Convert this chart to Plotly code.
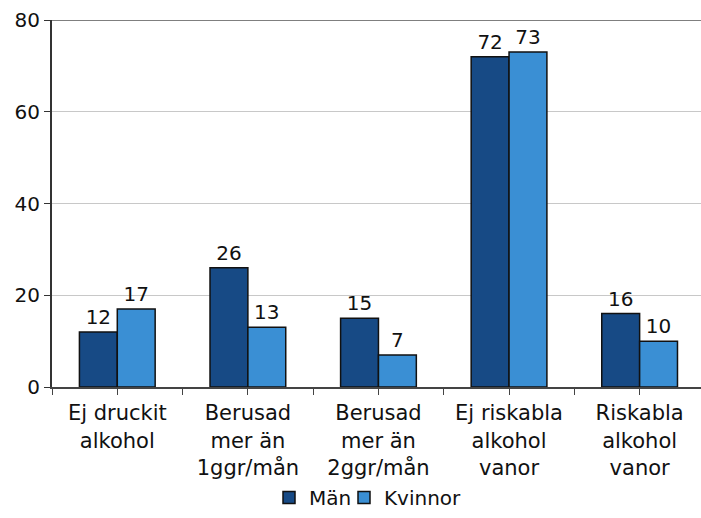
import plotly.graph_objects as go

categories = ["Ej druckit<br>alkohol", "Berusad<br>mer än<br>1ggr/mån", "Berusad<br>mer än<br>2ggr/mån",
              "Ej riskabla<br>alkohol<br>vanor", "Riskabla<br>alkohol<br>vanor"]
man = [12, 26, 15, 72, 16]
kvinnor = [17, 13, 7, 73, 10]
x = list(range(len(categories)))

FONT = "DejaVu Sans"
PLOT_L, PLOT_W = 52, 649
FIG_H = 518
PLOT_T, PLOT_B = 20, 387
PLOT_H = PLOT_B - PLOT_T

fig = go.Figure()
fig.add_trace(go.Bar(x=x, y=man, name="Män", legend="legend",
                     marker=dict(color="#174a85", line=dict(color="#111111", width=1.5)),
                     text=[str(v) for v in man], textposition="outside", cliponaxis=False,
                     textfont=dict(size=20, color="#111111", family=FONT)))
fig.add_trace(go.Bar(x=x, y=kvinnor, name="Kvinnor", legend="legend2",
                     marker=dict(color="#3a8fd4", line=dict(color="#111111", width=1.5)),
                     text=[str(v) for v in kvinnor], textposition="outside", cliponaxis=False,
                     textfont=dict(size=20, color="#111111", family=FONT)))

leg_common = dict(orientation="h", xanchor="left", yanchor="bottom",
                  y=-(FIG_H - PLOT_B - 1) / PLOT_H,
                  font=dict(size=20), itemwidth=30, bgcolor="rgba(0,0,0,0)")
fig.update_layout(
    width=701, height=FIG_H,
    margin=dict(l=PLOT_L, r=0, t=PLOT_T, b=FIG_H - PLOT_B),
    paper_bgcolor="white", plot_bgcolor="white",
    barmode="group", bargap=0.42, bargroupgap=0,
    font=dict(family=FONT, size=20, color="#111111"),
    showlegend=True,
    legend=dict(x=(269 - PLOT_L) / PLOT_W, **leg_common),
    legend2=dict(x=(344 - PLOT_L) / PLOT_W, **leg_common),
)
fig.update_xaxes(
    range=[-0.5, 4.47], tickvals=x, ticktext=categories, showgrid=False, zeroline=False,
    showline=True, linecolor="#444444", linewidth=2, automargin=False,
    ticks="outside", ticklen=6, tickcolor="#444444", tickfont=dict(size=21),
    minor=dict(ticks="outside", dtick=0.5, tick0=-0.5, ticklen=6, tickcolor="#444444", showgrid=False),
)
fig.update_yaxes(
    range=[0, 80], tickvals=[0, 20, 40, 60, 80], showgrid=True, gridcolor="#c8c8c8", gridwidth=1,
    zeroline=False, showline=True, linecolor="#333333", linewidth=2, mirror=False, automargin=False,
    ticks="outside", ticklen=6, tickcolor="#333333", tickfont=dict(size=20),
)
fig.add_shape(type="line", xref="paper", yref="y", x0=0, x1=1, y0=80, y1=80,
              line=dict(color="#7f7f7f", width=2))
fig.write_html(
    "out.html",
    config={"displayModeBar": False},
    post_script=(
        "document.documentElement.style.margin='0';"
        "document.body.style.margin='0';document.body.style.overflow='hidden';"
        "var d=document.querySelector('.plotly-graph-div');"
        "d.style.position='fixed';d.style.top='0px';d.style.left='0px';"
    ),
)
